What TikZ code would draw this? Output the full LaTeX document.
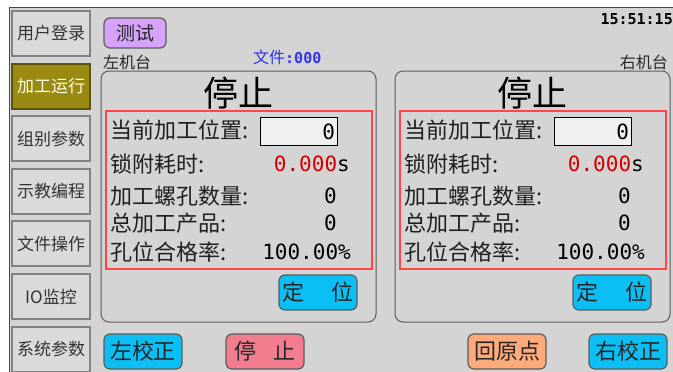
\documentclass[tikz,border=0pt]{standalone}
\usepackage{fontspec}
\newfontfamily\cjk{Noto Sans CJK SC}
\newfontfamily\mono{DejaVu Sans Mono}
\definecolor{screenbg}{HTML}{D4D4D4}
\definecolor{rim}{HTML}{5C5C5C}
\definecolor{sidefill}{HTML}{DADADA}
\definecolor{sidefrm}{HTML}{828282}
\definecolor{runfill}{HTML}{9A8A12}
\definecolor{testfill}{HTML}{D6A2FA}
\definecolor{skyfill}{HTML}{0BBFF4}
\definecolor{rosefill}{HTML}{F27D8E}
\definecolor{peachfill}{HTML}{FFAA7A}
\definecolor{alarm}{HTML}{FF4545}
\definecolor{fileblue}{HTML}{3232F0}
\definecolor{valred}{HTML}{D20000}
\begin{document}
\begin{tikzpicture}[x=1pt, y=-1pt,
		side/.style  = {draw=sidefrm, line width=2pt, fill=sidefill, minimum width=78pt, minimum height=45pt, inner sep=0pt, text=black!80, font=\cjk\fontsize{17}{17}\selectfont},
		run/.style   = {side, fill=runfill, draw=runfill!60!black, text=white!90!yellow},
		btn/.style   = {draw=rim, line width=1.2pt, rounded corners=6pt, minimum width=78pt, minimum height=35pt, inner sep=0pt, text=black!85, font=\cjk\fontsize{22}{22}\selectfont},
		panel/.style = {draw=rim, line width=1pt, rounded corners=8pt, minimum width=275pt, minimum height=251pt, inner sep=0pt},
		alarmbox/.style = {draw=alarm, line width=1.5pt, minimum width=266pt, minimum height=158pt, inner sep=0pt},
		entry/.style = {draw=black, line width=1.5pt, fill=white!94!black, minimum width=77pt, minimum height=28pt, inner sep=0pt},
		lbl/.style   = {anchor=west, inner sep=0pt, text=black!88, font=\cjk\fontsize{22}{22}\selectfont},
		val/.style   = {anchor=east, inner sep=0pt, text=black, font=\mono\fontsize{21}{21}\selectfont},
		small/.style = {inner sep=0pt, text=black!85, font=\cjk\fontsize{16}{16}\selectfont}]
	
	\useasboundingbox (0,0) rectangle (673,372);
	\fill[white] (0,0) rectangle (673,372);
	\fill[screenbg] (9,7) rectangle (673,372);
	\draw[rim!80!black, line width=1pt] (9,372) -- (9,7) -- (673,7);
	
	\foreach \name/\i in {用户登录/1, 组别参数/3, 示教编程/4, 文件操作/5, IO监控/6, 系统参数/7}
	\node[side] (menu\i) at (51, {33.5+52.6*(\i-1)}) {\name};
	\node[run] (menu2) at (51, 86.1) {加工运行};
	
	\node[btn, fill=testfill, minimum width=62pt, minimum height=30pt, font=\cjk\fontsize{19}{19}\selectfont] (test) at (135,33) {测试};
	\node[small, anchor=west] (leftst) at (103,62) {左机台};
	\node[small, anchor=east] (rightst) at (668,62) {右机台};
	\node[small, anchor=west, text=fileblue] (file) at (253,57) {文件{\mono\bfseries\fontsize{15}{15}\selectfont :000}};
	\node[inner sep=0pt, anchor=east, font=\mono\bfseries\fontsize{15}{15}\selectfont] (clock) at (673,19) {15:51:15};
	
	\foreach \p/\dx in {L/0, R/294}
	{
		\begin{scope}[xshift=\dx pt]
			\node[panel] (panel\p) at (238.5,196.5) {};
			\node[inner sep=0pt, font=\cjk\fontsize{35}{35}\selectfont] (state\p) at (238.5,93) {停止};
			\node[alarmbox] (data\p) at (239,190) {};
			
			\node[lbl] (pos\p) at (110,130) {当前加工位置:};
			\node[lbl] (time\p) at (110,164) {锁附耗时:};
			\node[lbl] (holes\p) at (110,196) {加工螺孔数量:};
			\node[lbl] (total\p) at (110,223) {总加工产品:};
			\node[lbl] (rate\p) at (110,252) {孔位合格率:};
			
			\node[entry] (posbox\p) at (299,131.5) {};
			\node[val] (posval\p) at ([xshift=-3pt]posbox\p.east) {0};
			\node[val] (timeval\p) at (350,164) {\textcolor{valred}{0.000}s};
			\node[val] (holesval\p) at (337,196) {0};
			\node[val] (totalval\p) at (337,223) {0};
			\node[val] (rateval\p) at (351,252) {100.00\%};
			
			\node[btn, fill=skyfill] (locate\p) at (318,292.5) {定\hspace{1.25em}位};
		\end{scope}
	}
	
	\node[btn, fill=skyfill] (calibL) at (143,351.5) {左校正};
	\node[btn, fill=rosefill] (stop) at (265,351.5) {停\hspace{0.75em}止};
	\node[btn, fill=peachfill] (home) at (507,351.5) {回原点};
	\node[btn, fill=skyfill] (calibR) at (628,351.5) {右校正};
\end{tikzpicture}
\end{document}
